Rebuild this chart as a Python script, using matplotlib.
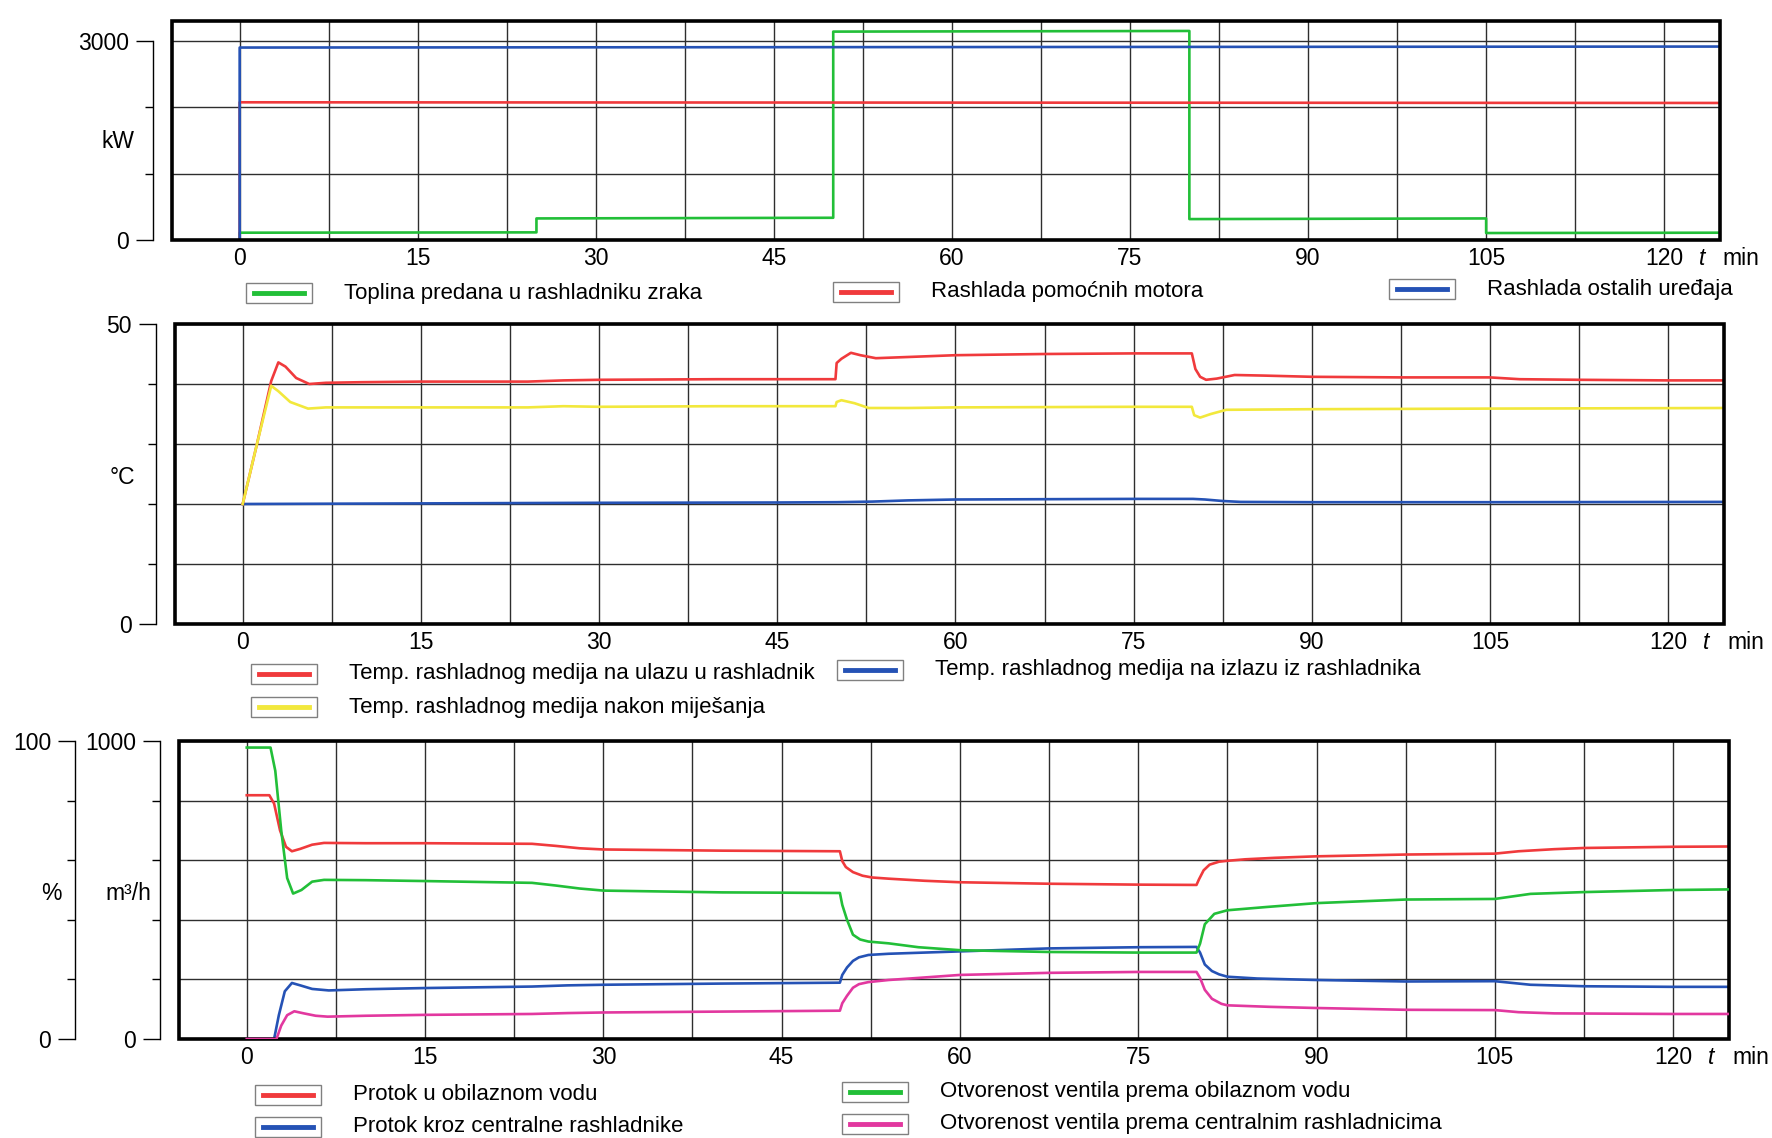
import matplotlib
matplotlib.use("Agg")
import matplotlib.pyplot as plt
from matplotlib.patches import Rectangle
from matplotlib.lines import Line2D

plt.rcParams['font.family'] = ['Liberation Sans', 'DejaVu Sans']

W, H = 1772, 1138
RED = '#f03a3c'
GREEN = '#22bf38'
BLUE = '#2552b5'
YELLOW = '#f2e83c'
MAGENTA = '#e2389f'
GRID = '#2e2e2e'

XMIN, XMAX = -5.7, 124.7
x_major = [0, 15, 30, 45, 60, 75, 90, 105, 120]
x_minor = [7.5, 22.5, 37.5, 52.5, 67.5, 82.5, 97.5, 112.5]

# --- panel 1: heat loads, kW ---
p1_green_t = [0, 0, 25, 25, 50, 50, 80, 80, 105, 105, 124.7]
p1_green = [0, 110, 115, 325, 335, 3140, 3150, 315, 325, 105, 110]
p1_red_t = [0, 0, 124.7]
p1_red = [0, 2075, 2065]
p1_blue_t = [0, 0, 124.7]
p1_blue = [0, 2900, 2915]

# --- panel 2: temperatures, degC ---
p2_red_t = [0, 1.2, 2.4, 3.0, 3.6, 4.5, 5.6, 7, 10, 15, 24, 27, 30, 40, 49.9, 50.0,
            50.4, 51.2, 52.0, 53.3, 56, 60, 67.5, 75, 79.9, 80.2, 80.6, 81.1, 82,
            83.5, 86, 90, 97.5, 105, 107.5, 112.5, 120, 124.7]
p2_red = [20, 30, 40.5, 43.6, 42.9, 41.0, 40.0, 40.2, 40.3, 40.4, 40.4, 40.6, 40.7,
          40.8, 40.8, 43.5, 44.2, 45.2, 44.8, 44.3, 44.5, 44.8, 45.0, 45.1, 45.1,
          42.5, 41.2, 40.7, 40.9, 41.5, 41.4, 41.2, 41.1, 41.1, 40.8, 40.7, 40.6, 40.6]
p2_yellow_t = [0, 1.2, 2.4, 3.0, 4, 5.5, 7, 15, 24, 27, 30, 40, 49.9, 50.0, 50.4,
               51.5, 52.7, 56, 60, 75, 79.9, 80.1, 80.6, 81.5, 82.8, 90, 105, 124.7]
p2_yellow = [20, 30, 39.7, 38.8, 37.0, 35.9, 36.1, 36.1, 36.1, 36.3, 36.2, 36.3,
             36.3, 37.0, 37.3, 36.8, 36.0, 36.0, 36.1, 36.2, 36.2, 34.8, 34.4, 35.0,
             35.7, 35.8, 35.9, 36.0]
p2_blue_t = [0, 15, 30, 45, 50, 53, 56, 60, 67.5, 75, 80, 81, 82.5, 84, 90, 105, 124.7]
p2_blue = [20.0, 20.1, 20.2, 20.25, 20.3, 20.4, 20.6, 20.75, 20.8, 20.85, 20.85,
           20.75, 20.5, 20.35, 20.3, 20.3, 20.35]

# --- panel 3: flows (m3/h) and valve openings (%) ---
p3_red_t = [0, 1.9, 2.3, 2.8, 3.3, 3.8, 4.5, 5.5, 6.5, 10, 15, 24, 26, 28, 30, 40,
            49.9, 50.1, 50.4, 51.0, 51.8, 52.6, 54, 57, 60, 67.5, 75, 79.9, 80.1,
            80.5, 81.0, 81.8, 82.5, 84, 86.5, 90, 97.5, 105, 107, 110, 112.5, 120, 124.7]
p3_red = [818, 818, 790, 700, 645, 630, 638, 652, 658, 657, 657, 655, 648, 640, 636,
          632, 630, 597, 577, 560, 548, 542, 538, 531, 526, 521, 518, 517, 535, 566,
          585, 595, 598, 603, 608, 613, 619, 622, 630, 637, 641, 645, 646]
p3_green_t = [0, 2.0, 2.4, 2.9, 3.4, 3.9, 4.6, 5.5, 6.5, 10, 15, 24, 26, 28, 30, 40,
              49.9, 50.1, 50.5, 51.0, 51.6, 52.3, 54, 56.5, 60, 67.5, 75, 79.9, 80.2,
              80.6, 81.4, 82.5, 85.8, 90, 97.5, 105, 108, 112.5, 120, 124.7]
p3_green = [97.8, 97.8, 90, 70, 54, 48.8, 50, 52.8, 53.4, 53.3, 53.0, 52.4, 51.5,
            50.5, 49.8, 49.2, 49.0, 45, 40, 35, 33.4, 32.7, 32.1, 30.8, 29.8, 29.2,
            29.0, 29.0, 32, 38.5, 42, 43.2, 44.3, 45.6, 46.8, 47.0, 48.7, 49.3, 50.0, 50.2]
p3_blue_t = [0, 2.3, 2.7, 3.2, 3.8, 4.5, 5.5, 6.9, 10, 15, 24, 27, 30, 40, 49.9, 50.1,
             50.5, 51.0, 51.5, 52.3, 54, 57, 60, 67.5, 75, 79.9, 80.2, 80.6, 81.2,
             81.8, 82.5, 85, 90, 97.5, 105, 106, 108, 112.5, 120, 124.7]
p3_blue = [0, 0, 80, 160, 188, 180, 168, 163, 167, 171, 176, 180, 182, 186, 189, 215,
           240, 262, 274, 282, 286, 290, 294, 304, 308, 309, 290, 250, 228, 217, 209,
           203, 198, 193, 194, 190, 182, 177, 175, 175]
p3_magenta_t = [0, 2.5, 2.9, 3.4, 4.0, 4.8, 5.8, 6.8, 10, 15, 24, 27, 30, 40, 49.9,
                50.1, 50.5, 51.0, 51.5, 52.3, 54, 56.5, 60, 67.5, 75, 79.9, 80.2, 80.6,
                81.2, 82.0, 82.5, 86, 90, 97.5, 105, 107, 110, 120, 124.7]
p3_magenta = [0, 0, 4.5, 8, 9.3, 8.6, 7.8, 7.5, 7.8, 8.1, 8.4, 8.7, 8.9, 9.2, 9.5, 12,
              14.5, 17.2, 18.4, 19.1, 19.8, 20.5, 21.5, 22.2, 22.5, 22.5, 20.5, 16.5,
              13.5, 11.8, 11.3, 10.8, 10.4, 9.8, 9.7, 9.0, 8.6, 8.4, 8.4]

fig = plt.figure(figsize=(W / 100, H / 100), dpi=100)
fig.patch.set_facecolor('white')


def px(x, y):
    return x / W, 1 - y / H


def make_panel(left, right, top, bottom, ylim, ymajor, yminor):
    ax = fig.add_axes([left / W, 1 - bottom / H, (right - left) / W, (bottom - top) / H])
    ax.set_xlim(XMIN, XMAX)
    ax.set_ylim(*ylim)
    ax.set_xticks(x_major)
    ax.set_xticks(x_minor, minor=True)
    ax.set_yticks(ymajor)
    ax.set_yticks(yminor, minor=True)
    ax.grid(True, which='both', color=GRID, lw=1.0)
    ax.set_axisbelow(True)
    for s in ('top', 'right', 'bottom'):
        ax.spines[s].set_visible(False)
    ax.spines['left'].set_position(('outward', 14))
    ax.spines['left'].set_bounds(ymajor[0], ymajor[-1])
    ax.spines['left'].set_linewidth(1.0)
    ax.tick_params(axis='x', which='both', length=0, labelsize=16.5, pad=5)
    ax.tick_params(axis='y', which='major', length=12, width=1, labelsize=16.5, pad=5)
    ax.tick_params(axis='y', which='minor', length=6, width=1)
    ax.add_patch(Rectangle((0, 0), 1, 1, transform=ax.transAxes, fill=False,
                           lw=2.6, ec='black', clip_on=False, zorder=6))
    for label, xv in (('t', 123.2), ('min', 126.5)):
        ax.annotate(label, xy=(xv, 0), xycoords=('data', 'axes fraction'),
                    xytext=(0, -5), textcoords='offset points', ha='center', va='top',
                    fontsize=16.5, style='italic' if label == 't' else 'normal',
                    annotation_clip=False)
    return ax


def legend_item(xb, yc, color, label):
    fig.add_artist(Rectangle(px(xb, yc + 10), 66 / W, 20 / H, fill=False,
                             ec='#808080', lw=1.0))
    x0, y0 = px(xb + 8, yc)
    x1, _ = px(xb + 58, yc)
    fig.add_artist(Line2D([x0, x1], [y0, y0], color=color, lw=3.5))
    fig.text(*px(xb + 98, yc), label, fontsize=16, va='center', ha='left')


lw = 1.9

# 1. top panel
ax1 = make_panel(172, 1720, 21, 240, (0, 3300), [0, 3000], [1000, 2000])
ax1.plot(p1_green_t, p1_green, color=GREEN, lw=lw)
ax1.plot(p1_red_t, p1_red, color=RED, lw=lw)
ax1.plot(p1_blue_t, p1_blue, color=BLUE, lw=lw)
fig.text(*px(118, 142), 'kW', fontsize=16.5, ha='center', va='center')
legend_item(246, 293, GREEN, 'Toplina predana u rashladniku zraka')
legend_item(833, 292, RED, 'Rashlada pomoćnih motora')
legend_item(1389, 289, BLUE, 'Rashlada ostalih uređaja')

# 2. middle panel
ax2 = make_panel(175, 1724, 324, 624, (0, 50), [0, 50], [10, 20, 30, 40])
ax2.plot(p2_blue_t, p2_blue, color=BLUE, lw=lw)
ax2.plot(p2_red_t, p2_red, color=RED, lw=lw)
ax2.plot(p2_yellow_t, p2_yellow, color=YELLOW, lw=lw)
fig.text(*px(122, 478), '°C', fontsize=16.5, ha='center', va='center')
legend_item(251, 674, RED, 'Temp. rashladnog medija na ulazu u rashladnik')
legend_item(837, 670, BLUE, 'Temp. rashladnog medija na izlazu iz rashladnika')
legend_item(251, 707, YELLOW, 'Temp. rashladnog medija nakon miješanja')

# 3. bottom panel, flows on the inner axis, valve openings on the outer one
ax3 = make_panel(179, 1729, 741, 1039, (0, 1000), [0, 1000], [200, 400, 600, 800])
ax3.plot(p3_red_t, p3_red, color=RED, lw=lw)
ax3.plot(p3_blue_t, p3_blue, color=BLUE, lw=lw)
ax3p = ax3.twinx()
ax3p.set_ylim(0, 100)
for s in ('top', 'right', 'bottom'):
    ax3p.spines[s].set_visible(False)
ax3p.spines['left'].set_visible(True)
ax3p.spines['left'].set_position(('outward', 75))
ax3p.spines['left'].set_linewidth(1.0)
ax3p.yaxis.set_ticks_position('left')
ax3p.set_yticks([0, 100])
ax3p.set_yticks([20, 40, 60, 80], minor=True)
ax3p.tick_params(axis='y', which='major', length=12, width=1, labelsize=16.5, pad=5)
ax3p.tick_params(axis='y', which='minor', length=6, width=1)
ax3p.plot(p3_green_t, p3_green, color=GREEN, lw=lw)
ax3p.plot(p3_magenta_t, p3_magenta, color=MAGENTA, lw=lw)
fig.text(*px(51, 894), '%', fontsize=16.5, ha='center', va='center')
fig.text(*px(128, 894), 'm³/h', fontsize=16.5, ha='center', va='center')
legend_item(255, 1095, RED, 'Protok u obilaznom vodu')
legend_item(255, 1127, BLUE, 'Protok kroz centralne rashladnike')
legend_item(842, 1092, GREEN, 'Otvorenost ventila prema obilaznom vodu')
legend_item(842, 1124, MAGENTA, 'Otvorenost ventila prema centralnim rashladnicima')

fig.savefig('out.png', dpi=100)
